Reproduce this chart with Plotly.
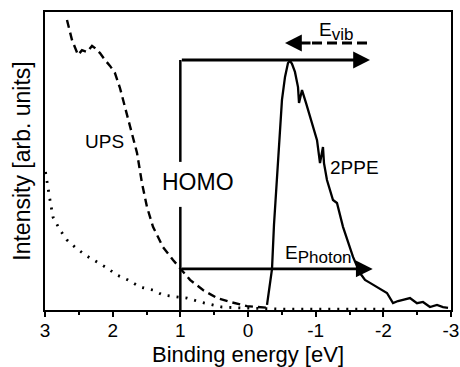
import plotly.graph_objects as go

# --- data ---
ups_x = [2.675, 2.601, 2.512, 2.453, 2.379, 2.305, 2.261, 2.187, 2.113, 2.039, 1.966, 1.892,
         1.818, 1.744, 1.640, 1.567, 1.493, 1.404, 1.256, 1.108, 0.975, 0.857, 0.665, 0.458,
         0.266, 0.015, -0.325]
ups_y = [0.973, 0.906, 0.856, 0.872, 0.866, 0.886, 0.879, 0.862, 0.839, 0.819, 0.795, 0.745,
         0.681, 0.614, 0.527, 0.426, 0.346, 0.279, 0.211, 0.168, 0.134, 0.101, 0.067, 0.040,
         0.027, 0.013, 0.007]

bg_x = [2.993, 2.970, 2.926, 2.882, 2.778, 2.675, 2.557, 2.409, 2.232, 2.084, 1.936, 1.773,
        1.596, 1.404, 1.256, 1.049, 0.901, 0.709, 0.517, 0.384, 0.118, -0.473, -1.212, -2.098]
bg_y = [0.463, 0.426, 0.369, 0.312, 0.268, 0.235, 0.211, 0.185, 0.161, 0.141, 0.117, 0.101,
        0.077, 0.067, 0.050, 0.044, 0.040, 0.027, 0.017, 0.010, 0.007, 0.003, 0.003, 0.003]

tppe_x = [-0.281, -0.355, -0.384, -0.428, -0.473, -0.502, -0.547, -0.591, -0.621, -0.650,
          -0.694, -0.739, -0.754, -0.798, -0.857, -0.916, -0.975, -1.020, -1.064, -1.108,
          -1.123, -1.167, -1.256, -1.315, -1.404, -1.478, -1.552, -1.655, -1.729, -1.803,
          -1.906, -1.980, -2.054, -2.143, -2.217, -2.290, -2.394, -2.497, -2.586, -2.689,
          -2.793, -2.882, -2.956]
tppe_y = [0.017, 0.138, 0.285, 0.436, 0.587, 0.705, 0.782, 0.829, 0.836, 0.826,
          0.799, 0.748, 0.695, 0.738, 0.695, 0.648, 0.604, 0.570, 0.493, 0.547,
          0.493, 0.436, 0.369, 0.359, 0.279, 0.228, 0.178, 0.124, 0.101, 0.091,
          0.077, 0.067, 0.057, 0.023, 0.030, 0.034, 0.040, 0.023, 0.027, 0.010,
          0.017, 0.010, 0.007]

tick_vals = [3, 2, 1, 0, -1, -2, -3]
tick_text = ["3", "2", "1", "0", "-1", "-2", "-3"]
minor_vals = [2.5, 1.5, 0.5, -0.5, -1.5, -2.5]

# annotation geometry (data units)
homo_x = 1.0
homo_top = 0.839
homo_gap = (0.346, 0.497)
photon_y = 0.138
photon_end = -1.843
top_end = -1.803
vib_y = 0.896
vib_left = -0.547
vib_stem = -0.946
vib_right = -1.803

FONT = "Liberation Sans, Arial, sans-serif"

fig = go.Figure()
fig.add_trace(go.Scatter(x=bg_x, y=bg_y, mode="lines",
                         line=dict(color="black", width=2.8, dash="2px,7px")))
fig.add_trace(go.Scatter(x=ups_x, y=ups_y, mode="lines",
                         line=dict(color="black", width=2.4, dash="8px,5px")))
fig.add_trace(go.Scatter(x=tppe_x, y=tppe_y, mode="lines",
                         line=dict(color="black", width=2.3)))
# HOMO vertical line (two segments, interrupted by label)
fig.add_trace(go.Scatter(x=[homo_x, homo_x, None, homo_x, homo_x],
                         y=[0, homo_gap[0], None, homo_gap[1], homo_top],
                         mode="lines", line=dict(color="black", width=2.5)))
# dashed part of E_vib arrow
fig.add_trace(go.Scatter(x=[vib_stem, vib_right], y=[vib_y, vib_y], mode="lines",
                         line=dict(color="black", width=3, dash="10px,5px")))

arrow_common = dict(xref="x", yref="y", axref="x", ayref="y", showarrow=True,
                    arrowhead=2, arrowsize=1.2, arrowwidth=2.8, arrowcolor="black", text="")
fig.add_annotation(x=top_end, y=homo_top, ax=homo_x, ay=homo_top, **arrow_common)
fig.add_annotation(x=photon_end, y=photon_y, ax=homo_x, ay=photon_y, **arrow_common)
fig.add_annotation(x=vib_left, y=vib_y, ax=vib_stem, ay=vib_y, **arrow_common)

txt = dict(xref="x", yref="y", showarrow=False, font=dict(family=FONT, size=19, color="black"))
fig.add_annotation(x=0.739, y=0.43, text="HOMO", **{**txt, "font": dict(family=FONT, size=23, color="black")})
fig.add_annotation(x=2.128, y=0.567, text="UPS", **txt)
fig.add_annotation(x=-1.581, y=0.477, text="2PPE", **txt)
fig.add_annotation(x=-1.02, y=0.935, text="E<sub><span style='font-size:17px'>vib</span></sub>",
                   xanchor="left", **txt)
fig.add_annotation(x=-0.517, y=0.185,
                   text="E<sub><span style='font-size:17px'>Photon</span></sub>",
                   xanchor="left", **txt)

fig.update_layout(
    width=460, height=367,
    margin=dict(l=45, r=9, t=12, b=57),
    paper_bgcolor="white", plot_bgcolor="white",
    showlegend=False,
    font=dict(family=FONT, color="black"),
    xaxis=dict(range=[3, -3], showgrid=False, zeroline=False, automargin=False,
               showline=True, mirror=True, linecolor="black", linewidth=1.8,
               ticks="outside", ticklen=5, tickwidth=1.5, tickcolor="black",
               tickvals=tick_vals, ticktext=tick_text, ticklabelstandoff=-3,
               tickfont=dict(family=FONT, size=19, color="black"),
               minor=dict(tickvals=minor_vals, ticks="outside", ticklen=3,
                          tickwidth=1.5, tickcolor="black"),
               title=dict(text="Binding energy [eV]",
                          font=dict(family=FONT, size=22, color="black"), standoff=8)),
    yaxis=dict(range=[0, 1], showgrid=False, zeroline=False, automargin=False,
               showline=True, mirror=True, linecolor="black", linewidth=1.8,
               ticks="", showticklabels=False,
               title=dict(text="Intensity [arb. units]",
                          font=dict(family=FONT, size=23, color="black"), standoff=6)),
)

fig.write_html("out.html")
